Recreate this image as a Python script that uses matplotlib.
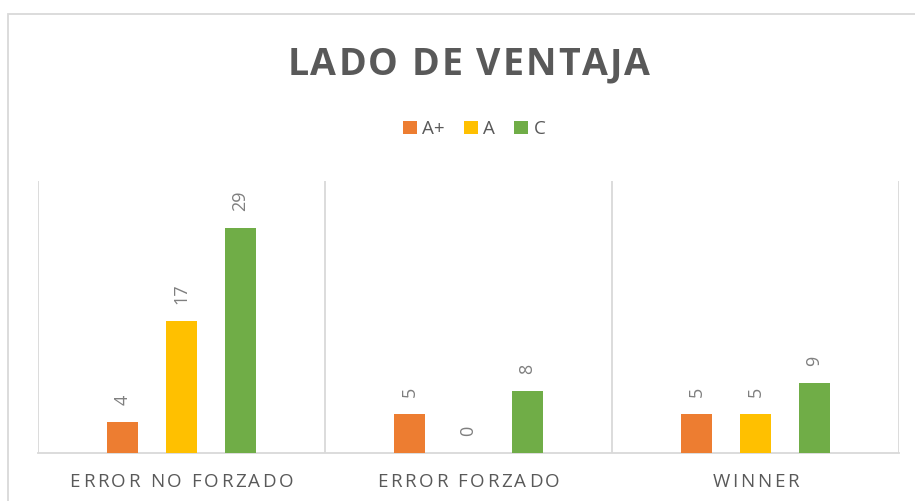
import numpy as np
import matplotlib
matplotlib.use('Agg')
import matplotlib.pyplot as plt
from matplotlib.font_manager import FontProperties, findfont
from matplotlib.ft2font import FT2Font
from matplotlib.patches import Rectangle, Patch

# Datos
categorias = ['ERROR NO FORZADO', 'ERROR FORZADO', 'WINNER']
series = ['A+', 'A', 'C']
valores_a_plus = [4, 5, 5]
valores_a = [17, 0, 5]
valores_c = [29, 8, 9]

colores = ['#ED7D31', '#FFC000', '#70AD47']
gris_texto = '#595959'
gris_linea = '#D9D9D9'

plt.rcParams['font.family'] = ['Open Sans', 'DejaVu Sans']

W, H = 915, 501
DPI = 100
fig = plt.figure(figsize=(W / DPI, H / DPI), dpi=DPI)
fig.patch.set_facecolor('white')

# Borde del área del gráfico (recortado a la derecha y abajo)
fig.patches.append(Rectangle((8 / W, -0.1), 1.2, 1.1 - 14 / H,
                             transform=fig.transFigure, fill=False,
                             edgecolor=gris_linea, linewidth=1.3))

ax = fig.add_axes([38 / W, 1 - 453 / H, (899 - 38) / W, (453 - 181) / H])

x = np.arange(len(categorias))
ancho = 0.108
sep = 0.206
for i, (vals, nombre) in enumerate(zip([valores_a_plus, valores_a, valores_c],
                                       series)):
    barras = ax.bar(x + (i - 1) * sep, vals, width=ancho, color=colores[i],
                    label=nombre, zorder=3)
    ax.bar_label(barras, padding=12, rotation=90, fontsize=13,
                 color='#7F7F7F')

ax.set_xlim(-0.5, len(categorias) - 0.5)
ax.set_ylim(0, 35)
ax.set_yticks([])
ax.set_xticks([])
ax.set_xticks(np.arange(len(categorias) + 1) - 0.5, minor=True)
ax.tick_params(which='both', length=0)
ax.xaxis.grid(True, which='minor', color=gris_linea, linewidth=1.3)
for lado in ['top', 'left', 'right']:
    ax.spines[lado].set_visible(False)
ax.spines['bottom'].set_color(gris_linea)
ax.spines['bottom'].set_linewidth(1.3)


def texto_espaciado(xc, y, s, espacio, fontsize, weight='normal',
                    color=gris_texto):
    """Dibuja texto centrado en xc (pixeles) con espaciado entre letras."""
    fp = FontProperties(family='Open Sans', size=fontsize, weight=weight)
    font = FT2Font(findfont(fp))
    font.set_size(fontsize, DPI)
    # avance real de cada glifo, en pixeles
    avances = [font.load_char(ord(c)).linearHoriAdvance / 65536 for c in s]
    total = sum(avances) + espacio * (len(s) - 1)
    xp = xc - total / 2
    for c, a in zip(s, avances):
        if c != ' ':
            fig.text(xp / W, y, c, fontproperties=fp, color=color,
                     ha='left', va='baseline')
        xp += a + espacio


# Titulo
texto_espaciado(468.5, 1 - 75 / H, 'LADO DE VENTAJA', 2.0, 27, weight='bold')

# Etiquetas de categorias
for i, cat in enumerate(categorias):
    xc = ax.transData.transform((x[i], 0))[0]
    texto_espaciado(xc, 1 - 487 / H, cat, 2.6, 13.5)

# Leyenda
handles = [Patch(facecolor=c, edgecolor='none') for c in colores]
leg = fig.legend(handles, series, loc='center', ncol=3,
                 bbox_to_anchor=(474 / W, 1 - 129 / H), frameon=False,
                 fontsize=13.5, handlelength=0.75, handleheight=0.75,
                 handletextpad=0.3, columnspacing=1.0, borderpad=0)
for t in leg.get_texts():
    t.set_color(gris_texto)

fig.savefig('out.png', dpi=DPI, facecolor='white')
